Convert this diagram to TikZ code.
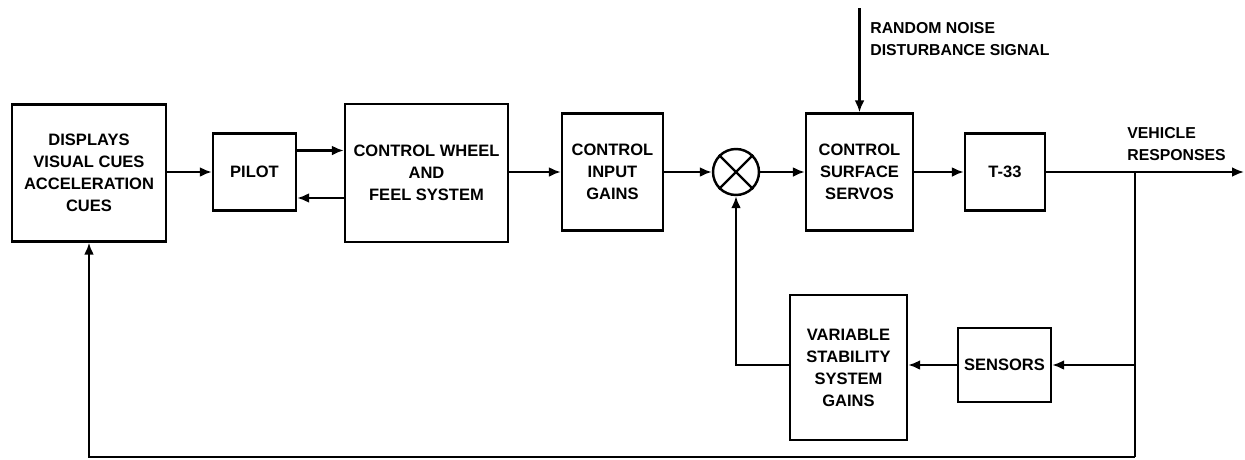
\documentclass[tikz,border=0pt]{standalone}
\usepackage{fontspec}
\setmainfont{Liberation Sans}
\usetikzlibrary{positioning, arrows.meta, calc}

\begin{document}
\begin{tikzpicture}[
  x=0.02cm, y=-0.02cm,
  box/.style={draw, line width=1.4pt, align=center, inner sep=0pt, font=\fontsize{9.4}{12.5}\selectfont\bfseries},
  lbl/.style={align=left, anchor=west, inner sep=0pt, font=\fontsize{9}{12.5}\selectfont\bfseries},
  arrow/.style={-{Latex[length=2.4mm,width=2mm]}, line width=1.4pt}
]
  \useasboundingbox (0,0) rectangle (1245,460);

  \node[box, minimum width=3.08cm, minimum height=2.74cm] (disp) at (89,173) {DISPLAYS\\VISUAL CUES\\ACCELERATION\\CUES};
  \node[box, minimum width=1.66cm, minimum height=1.54cm] (pilot) at (254.5,172) {PILOT};
  \node[box, minimum width=3.26cm, minimum height=2.76cm] (wheel) at (426.5,173) {CONTROL WHEEL\\AND\\FEEL SYSTEM};
  \node[box, minimum width=2.02cm, minimum height=2.34cm] (gains) at (612.5,172) {CONTROL\\INPUT\\GAINS};
  \node[draw, circle, line width=1.4pt, minimum size=0.92cm] (sum) at (736,172) {};
  \node[box, minimum width=2.14cm, minimum height=2.34cm] (servo) at (859.5,172) {CONTROL\\SURFACE\\SERVOS};
  \node[box, minimum width=1.6cm, minimum height=1.54cm] (t33) at (1005,172) {T-33};
  \node[box, minimum width=2.34cm, minimum height=2.9cm] (vssg) at (848.5,367.5) {VARIABLE\\STABILITY\\SYSTEM\\GAINS};
  \node[box, minimum width=1.86cm, minimum height=1.48cm] (sens) at (1004.5,365) {SENSORS};

  \node[lbl] (noise) at (870,39) {RANDOM NOISE\\DISTURBANCE SIGNAL};
  \node[lbl] (resp) at (1127,144) {VEHICLE\\RESPONSES};

  \coordinate (noisetop) at (858,8);
  \coordinate (branch) at (1135,172);
  \coordinate (out) at (1244,172);
  \coordinate (botR) at (1135,457);

  \draw[line width=1.4pt] (sum.north west) -- (sum.south east) (sum.north east) -- (sum.south west);

  \draw[arrow] (disp.east |- pilot.west) -- (pilot.west);
  \draw[arrow] ([yshift=4.3mm]pilot.east) -- ([yshift=4.3mm]pilot.east -| wheel.west);
  \draw[arrow] ([yshift=-5.2mm]pilot.east -| wheel.west) -- ([yshift=-5.2mm]pilot.east);
  \draw[arrow] (wheel.east |- gains.west) -- (gains.west);
  \draw[arrow] (gains.east) -- (sum.west);
  \draw[arrow] (sum.east) -- (servo.west);
  \draw[arrow] (noisetop -| servo.north) -- (servo.north);
  \draw[arrow] (servo.east) -- (t33.west);
  \draw[arrow] (t33.east) -- (out);
  \draw[line width=1.4pt] (branch) -- (botR);
  \draw[arrow] (sens.east -| branch) -- (sens.east);
  \draw[arrow] (sens.west) -- (vssg.east |- sens.west);
  \draw[arrow] (vssg.west |- sens.west) -| (sum.south);
  \draw[arrow] (botR) -| (disp.south);
\end{tikzpicture}
\end{document}
